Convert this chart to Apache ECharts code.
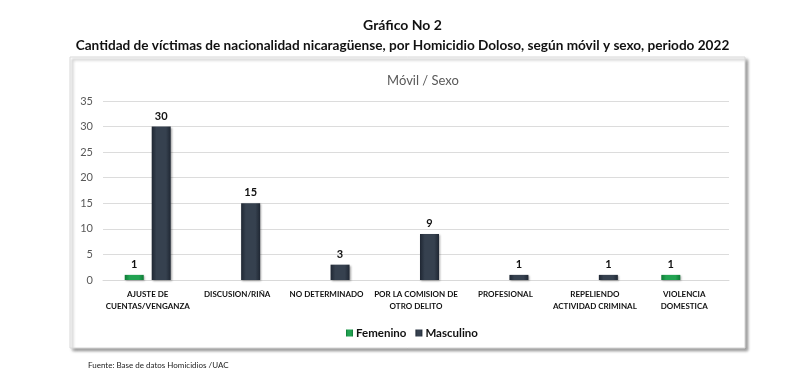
<!DOCTYPE html>
<html><head><meta charset="utf-8">
<script src="https://cdn.jsdelivr.net/npm/echarts@6/dist/echarts.min.js"></script>
<style>html,body{margin:0;padding:0;background:#fff}#c{width:805px;height:379px}</style>
</head><body><div id="c"></div>
<script>
const categories = ['AJUSTE DE\nCUENTAS/VENGANZA','DISCUSION/RIÑA','NO DETERMINADO','POR LA COMISION DE\nOTRO DELITO','PROFESIONAL','REPELIENDO\nACTIVIDAD CRIMINAL','VIOLENCIA\nDOMESTICA'];
const femenino = [1, null, null, null, null, null, 1];
const masculino = [30, 15, 3, 9, 1, 1, null];
const yTicks = {min: 0, max: 35, interval: 5};

const F = 'Lato, "Open Sans", sans-serif';
const chart = echarts.init(document.getElementById('c'), null, {renderer: 'canvas'});
function grad(edge, mid) {
  return new echarts.graphic.LinearGradient(0, 0, 1, 0, [
    {offset: 0, color: edge}, {offset: 0.25, color: mid}, {offset: 0.75, color: mid}, {offset: 1, color: edge}
  ]);
}
chart.setOption({
  animation: false,
  graphic: [
    {type: 'rect', z: -10, shape: {x: 70, y: 57, width: 675, height: 291},
     style: {fill: '#fff', stroke: '#d9d9d9', lineWidth: 1, shadowColor: 'rgba(0,0,0,0.4)', shadowBlur: 3, shadowOffsetX: 2.5, shadowOffsetY: 2.5}},
    {type: 'text', left: 88, top: 361, style: {text: 'Fuente: Base de datos Homicidios /UAC', font: '8px ' + F, fill: '#222'}}
  ],
  title: [
    {text: 'Gráfico No 2', left: 'center', top: 13, textStyle: {fontFamily: F, fontSize: 14, fontWeight: 'bold', color: '#111'}},
    {text: 'Cantidad de víctimas de nacionalidad nicaragüense, por Homicidio Doloso, según móvil y sexo, periodo 2022', left: 'center', top: 34, textStyle: {fontFamily: F, fontSize: 13.6, fontWeight: 'bold', color: '#111'}},
    {text: 'Móvil / Sexo', left: 418, textAlign: 'center', top: 69, textStyle: {fontFamily: F, fontSize: 13, fontWeight: 'normal', color: '#595959'}}
  ],
  legend: {
    top: 322, left: 341, itemWidth: 7, itemHeight: 7, itemGap: 9,
    icon: 'rect',
    textStyle: {fontFamily: F, fontSize: 11.5, fontWeight: 'bold', color: '#111', padding: [0, 0, 0, -2]},
    data: ['Femenino', 'Masculino']
  },
  grid: {left: 103, right: 76, top: 101, bottom: 99, containLabel: false},
  xAxis: {
    type: 'category', data: categories,
    axisLine: {lineStyle: {color: '#d9d9d9'}}, axisTick: {show: false},
    axisLabel: {interval: 0, margin: 8, fontFamily: F, fontSize: 8, fontWeight: 'bold', color: '#111', lineHeight: 12}
  },
  yAxis: {
    type: 'value', min: yTicks.min, max: yTicks.max, interval: yTicks.interval,
    axisLine: {show: false}, axisTick: {show: false},
    splitLine: {lineStyle: {color: '#dcdcdc'}},
    axisLabel: {fontFamily: F, fontSize: 11, color: '#595959', margin: 10}
  },
  series: [
    {name: 'Femenino', type: 'bar', data: femenino, barWidth: 19, barGap: '42%',
     itemStyle: {color: grad('#0f7a36', '#22a352'), shadowColor: 'rgba(0,0,0,0.3)', shadowBlur: 2, shadowOffsetX: 1, shadowOffsetY: 1},
     label: {show: true, position: 'top', distance: 5, fontFamily: F, fontSize: 11, fontWeight: 'bold', color: '#111'}},
    {name: 'Masculino', type: 'bar', data: masculino, barWidth: 19,
     itemStyle: {color: grad('#1f2733', '#36414f'), shadowColor: 'rgba(0,0,0,0.35)', shadowBlur: 2, shadowOffsetX: 1, shadowOffsetY: 1},
     label: {show: true, position: 'top', distance: 5, fontFamily: F, fontSize: 11, fontWeight: 'bold', color: '#111'}}
  ]
});
</script></body></html>
